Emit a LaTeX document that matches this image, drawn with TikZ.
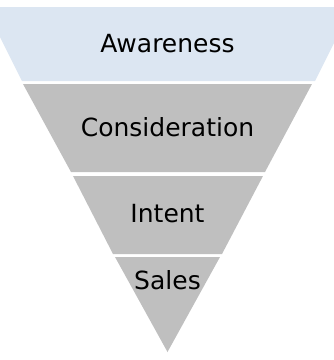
\documentclass[tikz,border=0pt]{standalone}
\usepackage{fontspec}
\setsansfont{DejaVu Sans}
\usepackage{tikz}

\begin{document}
\begin{tikzpicture}[x=1pt, y=-1pt,
    label/.style={anchor=base, font=\sffamily\fontsize{25}{28}\selectfont, text=black, inner sep=0pt}]
    \definecolor{customblue}{RGB}{220, 230, 242}
    \definecolor{customgray}{RGB}{191, 191, 191}

    \def\cx{167.5};

    \useasboundingbox (0,0) rectangle (334,360);

    % Awareness band
    \coordinate (a1) at (-15,7);
    \coordinate (a2) at (352,7);
    \coordinate (a3) at (315,81);
    \coordinate (a4) at (22,81);

    % Consideration band
    \coordinate (b1) at (23,84);
    \coordinate (b2) at (312,84);
    \coordinate (b3) at (265,172);
    \coordinate (b4) at (71,172);

    % Intent band
    \coordinate (c1) at (73,176);
    \coordinate (c2) at (263,176);
    \coordinate (c3) at (222,254);
    \coordinate (c4) at (113,254);

    % Sales band
    \coordinate (d1) at (115,257);
    \coordinate (d2) at (220,257);
    \coordinate (d3) at (\cx,352);

    % Color the bands
    \begin{scope}
        \clip (0,0) rectangle (334,360);
        \fill[customblue] (a1) -- (a2) -- (a3) -- (a4) -- cycle;
    \end{scope}
    \fill[customgray] (b1) -- (b2) -- (b3) -- (b4) -- cycle;
    \fill[customgray] (c1) -- (c2) -- (c3) -- (c4) -- cycle;
    \fill[customgray] (d1) -- (d2) -- (d3) -- cycle;

    % Band labels
    \node[label] (awareness) at (\cx,52) {Awareness};
    \node[label] (consideration) at (\cx,136) {Consideration};
    \node[label] (intent) at (\cx,222) {Intent};
    \node[label] (sales) at (\cx,289) {Sales};
\end{tikzpicture}
\end{document}
